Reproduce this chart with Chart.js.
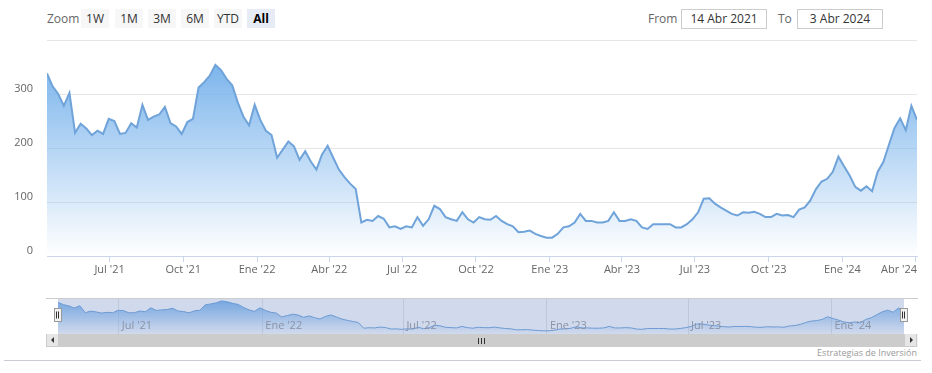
<!DOCTYPE html>
<html>
<head>
<meta charset="utf-8">
<script src="https://cdn.jsdelivr.net/npm/chart.js@4.4.1/dist/chart.umd.min.js"></script>
<style>
  body { margin: 0; width: 932px; height: 373px; background: #fff; position: relative; overflow: hidden; font-family: "Open Sans", sans-serif; }
  .abs { position: absolute; }
  #zoom-label { left: 47px; top: 9px; height: 19px; line-height: 19px; font-size: 12px; color: #666; }
  .btn { top: 9px; width: 28px; height: 19px; line-height: 19px; text-align: center; font-size: 12px; color: #333; background: #f7f7f7; }
  .btn.active { background: #e6ebf5; color: #000; font-weight: bold; }
  .range-label { top: 9px; height: 19px; line-height: 19px; font-size: 12px; color: #666; }
  .range-input { top: 9px; width: 84px; height: 18px; line-height: 18px; border: 1px solid #ccc; text-align: center; font-size: 12px; color: #333; box-sizing: content-box; }
  #mainChart { left: 0; top: 30px; }
  #navChart { left: 0; top: 290px; }
  #sb-track { left: 46px; top: 334px; width: 872px; height: 13px; background: #f2f2f2; }
  #sb-bar { left: 58px; top: 334px; width: 846px; height: 13px; background: #cccccc; }
  .sb-btn { top: 334px; width: 11px; height: 12px; background: #e6e6e6; border: 1px solid #cccccc; border-width: 0 1px 1px 1px; }
  .arrow { width: 0; height: 0; border-top: 3px solid transparent; border-bottom: 3px solid transparent; }
  .grip { top: 338px; width: 1px; height: 6px; background: #333; }
  #credits { right: 15px; top: 346px; font-size: 9px; color: #999; }
  #bottom-line { left: 4px; top: 360px; width: 917px; height: 1px; background: #c9ccd6; }
</style>
</head>
<body>
<div class="abs" id="zoom-label">Zoom</div>
<div class="abs btn" style="left:81px">1W</div>
<div class="abs btn" style="left:115px">1M</div>
<div class="abs btn" style="left:148px">3M</div>
<div class="abs btn" style="left:181px">6M</div>
<div class="abs btn" style="left:214px">YTD</div>
<div class="abs btn active" style="left:247px">All</div>
<div class="abs range-label" style="left:648px">From</div>
<div class="abs range-input" style="left:681px">14 Abr 2021</div>
<div class="abs range-label" style="left:778px">To</div>
<div class="abs range-input" style="left:797px">3 Abr 2024</div>

<canvas class="abs" id="mainChart" width="932" height="260"></canvas>
<canvas class="abs" id="navChart" width="932" height="44"></canvas>

<div class="abs" id="sb-track"></div>
<div class="abs" id="sb-bar"></div>
<div class="abs sb-btn" style="left:46px"><div class="arrow abs" style="left:4px;top:3px;border-right:3px solid #333"></div></div>
<div class="abs sb-btn" style="left:904px"><div class="arrow abs" style="left:5px;top:3px;border-left:3px solid #333"></div></div>
<div class="abs grip" style="left:478px"></div>
<div class="abs grip" style="left:481px"></div>
<div class="abs grip" style="left:484px"></div>
<div class="abs" id="credits">Estrategias de Inversión</div>
<div class="abs" id="bottom-line"></div>

<script>
// weekly closes, first one on 14 Apr 2021, last one on 3 Apr 2024
const START_DATE = "2021-04-14";
const STEP_DAYS = 7;
const prices = [
  338, 314, 300, 278, 302, 228, 245, 236, 224, 232,
  226, 254, 250, 226, 228, 246, 238, 280, 252, 258,
  262, 276, 246, 240, 226, 248, 254, 312, 322, 334,
  354, 344, 328, 316, 284, 258, 242, 280, 252, 232,
  224, 182, 197, 212, 203, 178, 194, 175, 160, 188,
  204, 182, 160, 146, 134, 124, 62, 67, 65, 74,
  69, 53, 55, 50, 55, 53, 72, 56, 68, 93,
  87, 72, 68, 65, 81, 68, 62, 72, 68, 67,
  74, 65, 59, 55, 44, 45, 47, 41, 37, 34,
  34, 41, 53, 55, 62, 78, 65, 65, 62, 62,
  65, 81, 65, 65, 68, 65, 53, 50, 59, 59,
  59, 59, 53, 53, 59, 68, 81, 106, 107, 97,
  90, 84, 78, 75, 81, 80, 82, 78, 72, 72,
  78, 75, 76, 72, 86, 90, 103, 124, 138, 143,
  156, 184, 166, 149, 128, 121, 129, 120, 156, 174,
  206, 237, 255, 233, 278, 252
];

const tickDates = ["2021-07-01", "2021-10-01", "2022-01-01", "2022-04-01", "2022-07-01", "2022-10-01",
                   "2023-01-01", "2023-04-01", "2023-07-01", "2023-10-01", "2024-01-01", "2024-04-01"];
const tickLabels = ["Jul '21", "Oct '21", "Ene '22", "Abr '22", "Jul '22", "Oct '22",
                    "Ene '23", "Abr '23", "Jul '23", "Oct '23", "Ene '24", "Abr '24"];
const navTickDates = ["2021-07-01", "2022-01-01", "2022-07-01", "2023-01-01", "2023-07-01", "2024-01-01"];
const navTickLabels = ["Jul '21", "Ene '22", "Jul '22", "Ene '23", "Jul '23", "Ene '24"];

const LINE_COLOR = "#6fa3d9";
const FONT = '"Open Sans", sans-serif';

function daysFromStart(d) {
  return (Date.parse(d) - Date.parse(START_DATE)) / 864e5;
}

const points = prices.map((p, i) => ({ x: i * STEP_DAYS, y: p }));
const lastDay = (prices.length - 1) * STEP_DAYS;
const tickDays = tickDates.map(daysFromStart);
const navTickDays = navTickDates.map(daysFromStart);
const maxPrice = Math.max(...prices);

function areaGradient(context) {
  const chart = context.chart;
  const area = chart.chartArea;
  if (!area) return "rgba(124,181,236,0.4)";
  const top = chart.scales.y.getPixelForValue(maxPrice);
  const g = chart.ctx.createLinearGradient(0, top, 0, area.bottom);
  g.addColorStop(0, "rgba(124,181,236,1)");
  g.addColorStop(1, "rgba(124,181,236,0)");
  return g;
}

// x labels drawn from the x scale, last one kept inside the plot
const xLabels = {
  id: "xLabels",
  afterDatasetsDraw(chart, args, opts) {
    const { ctx, chartArea, scales } = chart;
    ctx.save();
    ctx.font = "11px " + FONT;
    ctx.fillStyle = opts.color;
    ctx.textBaseline = "middle";
    ctx.textAlign = "left";
    opts.values.forEach((v, i) => {
      const label = opts.labels[i];
      const w = ctx.measureText(label).width;
      const px = scales.x.getPixelForValue(v);
      let left = opts.align === "left" ? px + 3 : px - w / 2;
      left = Math.min(left, chartArea.right - w);
      ctx.fillText(label, left, chartArea.bottom + opts.dy);
    });
    ctx.restore();
  }
};

const navDecor = {
  id: "navDecor",
  afterDatasetsDraw(chart) {
    const { ctx, chartArea: a } = chart;
    ctx.save();
    ctx.fillStyle = "rgba(102,133,194,0.3)";
    ctx.fillRect(a.left, a.top, a.right - a.left, a.bottom - a.top);
    ctx.strokeStyle = "#cccccc";
    ctx.lineWidth = 1;
    ctx.beginPath();
    ctx.moveTo(46, a.top + 0.5);
    ctx.lineTo(918, a.top + 0.5);
    ctx.stroke();
    [a.left, a.right].forEach((x) => {
      const cx = Math.round(x);
      ctx.fillStyle = "#f2f2f2";
      ctx.strokeStyle = "#999";
      ctx.fillRect(cx - 3.5, a.top + 10.5, 7, 13);
      ctx.strokeRect(cx - 3.5, a.top + 10.5, 7, 13);
      ctx.strokeStyle = "#333";
      ctx.beginPath();
      ctx.moveTo(cx - 1.5, a.top + 13.5); ctx.lineTo(cx - 1.5, a.top + 20.5);
      ctx.moveTo(cx + 0.5, a.top + 13.5); ctx.lineTo(cx + 0.5, a.top + 20.5);
      ctx.stroke();
    });
    ctx.restore();
  }
};

new Chart(document.getElementById("mainChart"), {
  type: "line",
  data: {
    datasets: [{
      data: points,
      borderColor: LINE_COLOR,
      borderWidth: 2,
      pointRadius: 0,
      tension: 0,
      fill: "origin",
      backgroundColor: areaGradient
    }]
  },
  options: {
    animation: false,
    responsive: false,
    layout: { padding: { top: 10, right: 15, bottom: 4, left: 0 } },
    plugins: {
      legend: { display: false },
      tooltip: { enabled: false },
      xLabels: { values: tickDays, labels: tickLabels, color: "#666", dy: 14, align: "center" }
    },
    scales: {
      x: {
        type: "linear",
        min: 0,
        max: lastDay,
        afterBuildTicks: (s) => { s.ticks = tickDays.map((v) => ({ value: v })); },
        afterFit: (s) => { s.height = 30; s.paddingLeft = 0; s.paddingRight = 0; },
        ticks: { display: false },
        grid: { drawOnChartArea: false, drawTicks: true, tickLength: 6, color: "#ccd6eb" },
        border: { color: "#ccd6eb" }
      },
      y: {
        min: 0,
        max: 400,
        afterFit: (s) => { s.width = 47; s.paddingTop = 0; s.paddingBottom = 0; },
        ticks: {
          stepSize: 100,
          padding: 14,
          labelOffset: -5,
          color: "#666",
          font: { family: FONT, size: 11 },
          callback: (v) => (v === 400 ? "" : v)
        },
        grid: { color: "#e6e6e6", drawTicks: false },
        border: { display: false }
      }
    }
  },
  plugins: [xLabels]
});

new Chart(document.getElementById("navChart"), {
  type: "line",
  data: {
    datasets: [{
      data: points,
      borderColor: LINE_COLOR,
      borderWidth: 1,
      pointRadius: 0,
      tension: 0,
      fill: "origin",
      backgroundColor: areaGradient
    }]
  },
  options: {
    animation: false,
    responsive: false,
    layout: { padding: { top: 8, right: 28, bottom: 0, left: 58 } },
    plugins: {
      legend: { display: false },
      tooltip: { enabled: false },
      xLabels: { values: navTickDays, labels: navTickLabels, color: "#999", dy: -8, align: "left" }
    },
    scales: {
      x: {
        type: "linear",
        min: 0,
        max: lastDay,
        afterBuildTicks: (s) => { s.ticks = navTickDays.map((v) => ({ value: v })); },
        afterFit: (s) => { s.height = 0; s.paddingLeft = 0; s.paddingRight = 0; },
        ticks: { display: false },
        grid: { color: "#e6e6e6", drawTicks: false },
        border: { display: false }
      },
      y: { display: false, min: 0, max: 385 }
    }
  },
  plugins: [xLabels, navDecor]
});
</script>
</body>
</html>
